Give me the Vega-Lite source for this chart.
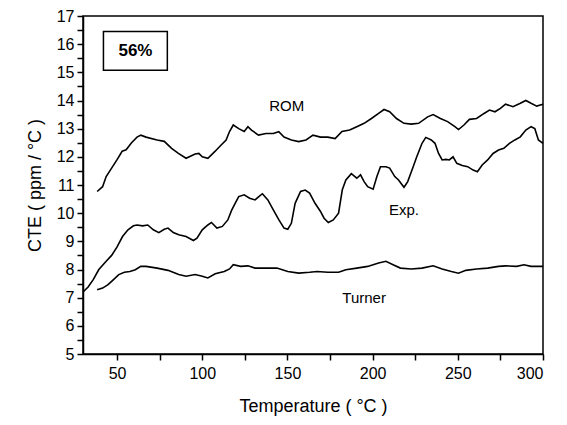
{
  "$schema": "https://vega.github.io/schema/vega-lite/v6.json",
  "width": 460,
  "height": 338,
  "autosize": "none",
  "padding": {"left": 83, "top": 16, "right": 24, "bottom": 71},
  "background": "white",
  "config": {
    "view": {"stroke": "black", "strokeWidth": 1.5},
    "font": "Liberation Sans",
    "axis": {"ticks": true, "tickColor": "black", "tickWidth": 1.5, "tickSize": 6, "tickOpacity": 1}
  },
  "datasets": {
    "curves": [
      {"series": "ROM", "t": 38.3, "cte": 10.77},
      {"series": "ROM", "t": 41.5, "cte": 10.94},
      {"series": "ROM", "t": 43.6, "cte": 11.3},
      {"series": "ROM", "t": 46.8, "cte": 11.6},
      {"series": "ROM", "t": 50, "cte": 11.9},
      {"series": "ROM", "t": 52, "cte": 12.1},
      {"series": "ROM", "t": 53, "cte": 12.2},
      {"series": "ROM", "t": 55.3, "cte": 12.25},
      {"series": "ROM", "t": 58.5, "cte": 12.5},
      {"series": "ROM", "t": 61.7, "cte": 12.7},
      {"series": "ROM", "t": 64, "cte": 12.77},
      {"series": "ROM", "t": 67, "cte": 12.7},
      {"series": "ROM", "t": 73.5, "cte": 12.6},
      {"series": "ROM", "t": 77.7, "cte": 12.55},
      {"series": "ROM", "t": 82, "cte": 12.3},
      {"series": "ROM", "t": 86, "cte": 12.12},
      {"series": "ROM", "t": 90.5, "cte": 11.95},
      {"series": "ROM", "t": 95.8, "cte": 12.1},
      {"series": "ROM", "t": 98, "cte": 12.12},
      {"series": "ROM", "t": 100, "cte": 12.0},
      {"series": "ROM", "t": 103.3, "cte": 11.95},
      {"series": "ROM", "t": 107.6, "cte": 12.2},
      {"series": "ROM", "t": 110.8, "cte": 12.4},
      {"series": "ROM", "t": 114, "cte": 12.6},
      {"series": "ROM", "t": 116, "cte": 12.9},
      {"series": "ROM", "t": 118.2, "cte": 13.13},
      {"series": "ROM", "t": 121.4, "cte": 13.0},
      {"series": "ROM", "t": 124.6, "cte": 12.9},
      {"series": "ROM", "t": 126.8, "cte": 13.07},
      {"series": "ROM", "t": 128.9, "cte": 12.95},
      {"series": "ROM", "t": 133, "cte": 12.77},
      {"series": "ROM", "t": 137.4, "cte": 12.83},
      {"series": "ROM", "t": 141.7, "cte": 12.83},
      {"series": "ROM", "t": 144.9, "cte": 12.89},
      {"series": "ROM", "t": 148, "cte": 12.7},
      {"series": "ROM", "t": 152.3, "cte": 12.6},
      {"series": "ROM", "t": 156.6, "cte": 12.54},
      {"series": "ROM", "t": 160.9, "cte": 12.6},
      {"series": "ROM", "t": 165, "cte": 12.77},
      {"series": "ROM", "t": 169.4, "cte": 12.7},
      {"series": "ROM", "t": 173.7, "cte": 12.7},
      {"series": "ROM", "t": 178, "cte": 12.65},
      {"series": "ROM", "t": 182, "cte": 12.9},
      {"series": "ROM", "t": 186.5, "cte": 12.95},
      {"series": "ROM", "t": 190.7, "cte": 13.07},
      {"series": "ROM", "t": 195, "cte": 13.19},
      {"series": "ROM", "t": 199.3, "cte": 13.36},
      {"series": "ROM", "t": 203.5, "cte": 13.54},
      {"series": "ROM", "t": 206.7, "cte": 13.68},
      {"series": "ROM", "t": 210, "cte": 13.6},
      {"series": "ROM", "t": 214, "cte": 13.36},
      {"series": "ROM", "t": 218.4, "cte": 13.19},
      {"series": "ROM", "t": 222.7, "cte": 13.16},
      {"series": "ROM", "t": 227, "cte": 13.19},
      {"series": "ROM", "t": 232.3, "cte": 13.42},
      {"series": "ROM", "t": 235.5, "cte": 13.5},
      {"series": "ROM", "t": 239.8, "cte": 13.36},
      {"series": "ROM", "t": 244, "cte": 13.25},
      {"series": "ROM", "t": 248.3, "cte": 13.07},
      {"series": "ROM", "t": 250.4, "cte": 12.97},
      {"series": "ROM", "t": 253.6, "cte": 13.13},
      {"series": "ROM", "t": 256.8, "cte": 13.33},
      {"series": "ROM", "t": 261, "cte": 13.36},
      {"series": "ROM", "t": 265.4, "cte": 13.54},
      {"series": "ROM", "t": 268.6, "cte": 13.66},
      {"series": "ROM", "t": 271.8, "cte": 13.6},
      {"series": "ROM", "t": 275, "cte": 13.72},
      {"series": "ROM", "t": 278, "cte": 13.87},
      {"series": "ROM", "t": 282.4, "cte": 13.78},
      {"series": "ROM", "t": 286.7, "cte": 13.9},
      {"series": "ROM", "t": 289.9, "cte": 14.0},
      {"series": "ROM", "t": 293, "cte": 13.9},
      {"series": "ROM", "t": 296.3, "cte": 13.8},
      {"series": "ROM", "t": 300, "cte": 13.87},
      {"series": "Exp", "t": 30, "cte": 7.2},
      {"series": "Exp", "t": 33, "cte": 7.38},
      {"series": "Exp", "t": 36, "cte": 7.64},
      {"series": "Exp", "t": 39.3, "cte": 8.0},
      {"series": "Exp", "t": 43.6, "cte": 8.29},
      {"series": "Exp", "t": 46.8, "cte": 8.5},
      {"series": "Exp", "t": 50, "cte": 8.8},
      {"series": "Exp", "t": 53.2, "cte": 9.17},
      {"series": "Exp", "t": 56.4, "cte": 9.41},
      {"series": "Exp", "t": 59.6, "cte": 9.55},
      {"series": "Exp", "t": 61.7, "cte": 9.58},
      {"series": "Exp", "t": 65, "cte": 9.55},
      {"series": "Exp", "t": 68, "cte": 9.58},
      {"series": "Exp", "t": 71.3, "cte": 9.41},
      {"series": "Exp", "t": 74.5, "cte": 9.31},
      {"series": "Exp", "t": 77.7, "cte": 9.43},
      {"series": "Exp", "t": 79.9, "cte": 9.47},
      {"series": "Exp", "t": 83, "cte": 9.31},
      {"series": "Exp", "t": 86.2, "cte": 9.23},
      {"series": "Exp", "t": 90.5, "cte": 9.17},
      {"series": "Exp", "t": 94.8, "cte": 9.03},
      {"series": "Exp", "t": 96.9, "cte": 9.11},
      {"series": "Exp", "t": 100, "cte": 9.41},
      {"series": "Exp", "t": 103.3, "cte": 9.58},
      {"series": "Exp", "t": 105.4, "cte": 9.67},
      {"series": "Exp", "t": 108.6, "cte": 9.47},
      {"series": "Exp", "t": 111.8, "cte": 9.53},
      {"series": "Exp", "t": 115, "cte": 9.76},
      {"series": "Exp", "t": 117.2, "cte": 10.1},
      {"series": "Exp", "t": 119.3, "cte": 10.35},
      {"series": "Exp", "t": 121.4, "cte": 10.59},
      {"series": "Exp", "t": 124.6, "cte": 10.65},
      {"series": "Exp", "t": 127.8, "cte": 10.53},
      {"series": "Exp", "t": 131, "cte": 10.47},
      {"series": "Exp", "t": 133.2, "cte": 10.59},
      {"series": "Exp", "t": 135.3, "cte": 10.69},
      {"series": "Exp", "t": 138.5, "cte": 10.47},
      {"series": "Exp", "t": 141.7, "cte": 10.12},
      {"series": "Exp", "t": 145, "cte": 9.76},
      {"series": "Exp", "t": 148, "cte": 9.47},
      {"series": "Exp", "t": 150.2, "cte": 9.43},
      {"series": "Exp", "t": 152.3, "cte": 9.64},
      {"series": "Exp", "t": 154.5, "cte": 10.35},
      {"series": "Exp", "t": 157.7, "cte": 10.77},
      {"series": "Exp", "t": 160.4, "cte": 10.82},
      {"series": "Exp", "t": 163, "cte": 10.71},
      {"series": "Exp", "t": 166.2, "cte": 10.35},
      {"series": "Exp", "t": 169.4, "cte": 10.06},
      {"series": "Exp", "t": 171.5, "cte": 9.82},
      {"series": "Exp", "t": 174, "cte": 9.67},
      {"series": "Exp", "t": 176.9, "cte": 9.76},
      {"series": "Exp", "t": 180, "cte": 10.0},
      {"series": "Exp", "t": 182.2, "cte": 10.83},
      {"series": "Exp", "t": 184.3, "cte": 11.18},
      {"series": "Exp", "t": 187.5, "cte": 11.4},
      {"series": "Exp", "t": 190.7, "cte": 11.24},
      {"series": "Exp", "t": 192.9, "cte": 11.36},
      {"series": "Exp", "t": 195, "cte": 11.12},
      {"series": "Exp", "t": 197.1, "cte": 10.94},
      {"series": "Exp", "t": 200.3, "cte": 10.85},
      {"series": "Exp", "t": 202.5, "cte": 11.3},
      {"series": "Exp", "t": 204.6, "cte": 11.65},
      {"series": "Exp", "t": 207.8, "cte": 11.65},
      {"series": "Exp", "t": 210, "cte": 11.6},
      {"series": "Exp", "t": 213, "cte": 11.3},
      {"series": "Exp", "t": 215.2, "cte": 11.18},
      {"series": "Exp", "t": 218.4, "cte": 10.92},
      {"series": "Exp", "t": 220.6, "cte": 11.12},
      {"series": "Exp", "t": 223.8, "cte": 11.65},
      {"series": "Exp", "t": 225.9, "cte": 12.0},
      {"series": "Exp", "t": 229, "cte": 12.48},
      {"series": "Exp", "t": 231.2, "cte": 12.69},
      {"series": "Exp", "t": 234.4, "cte": 12.6},
      {"series": "Exp", "t": 236.6, "cte": 12.48},
      {"series": "Exp", "t": 238.7, "cte": 12.12},
      {"series": "Exp", "t": 240.8, "cte": 11.89},
      {"series": "Exp", "t": 243, "cte": 11.91},
      {"series": "Exp", "t": 245, "cte": 11.89},
      {"series": "Exp", "t": 247.2, "cte": 12.0},
      {"series": "Exp", "t": 249.4, "cte": 11.77},
      {"series": "Exp", "t": 252.6, "cte": 11.69},
      {"series": "Exp", "t": 255.8, "cte": 11.65},
      {"series": "Exp", "t": 259, "cte": 11.53},
      {"series": "Exp", "t": 261.5, "cte": 11.47},
      {"series": "Exp", "t": 264.3, "cte": 11.71},
      {"series": "Exp", "t": 267.5, "cte": 11.89},
      {"series": "Exp", "t": 270.7, "cte": 12.12},
      {"series": "Exp", "t": 273.9, "cte": 12.24},
      {"series": "Exp", "t": 277, "cte": 12.3},
      {"series": "Exp", "t": 280.3, "cte": 12.48},
      {"series": "Exp", "t": 283.5, "cte": 12.6},
      {"series": "Exp", "t": 286.7, "cte": 12.71},
      {"series": "Exp", "t": 289.9, "cte": 12.95},
      {"series": "Exp", "t": 293, "cte": 13.07},
      {"series": "Exp", "t": 295.2, "cte": 13.0},
      {"series": "Exp", "t": 297.3, "cte": 12.6},
      {"series": "Exp", "t": 300, "cte": 12.48},
      {"series": "Turner", "t": 38.3, "cte": 7.28},
      {"series": "Turner", "t": 41.5, "cte": 7.34},
      {"series": "Turner", "t": 44.7, "cte": 7.46},
      {"series": "Turner", "t": 47.9, "cte": 7.64},
      {"series": "Turner", "t": 51, "cte": 7.82},
      {"series": "Turner", "t": 54.3, "cte": 7.9},
      {"series": "Turner", "t": 57.5, "cte": 7.93},
      {"series": "Turner", "t": 60.7, "cte": 7.99},
      {"series": "Turner", "t": 63.9, "cte": 8.11},
      {"series": "Turner", "t": 67, "cte": 8.11},
      {"series": "Turner", "t": 73.5, "cte": 8.05},
      {"series": "Turner", "t": 79.9, "cte": 7.97},
      {"series": "Turner", "t": 86.2, "cte": 7.82},
      {"series": "Turner", "t": 90.5, "cte": 7.76},
      {"series": "Turner", "t": 95.8, "cte": 7.82},
      {"series": "Turner", "t": 100, "cte": 7.76},
      {"series": "Turner", "t": 103.3, "cte": 7.7},
      {"series": "Turner", "t": 107.6, "cte": 7.85},
      {"series": "Turner", "t": 112.9, "cte": 7.93},
      {"series": "Turner", "t": 116, "cte": 8.02},
      {"series": "Turner", "t": 118.2, "cte": 8.17},
      {"series": "Turner", "t": 122.5, "cte": 8.11},
      {"series": "Turner", "t": 126.8, "cte": 8.13},
      {"series": "Turner", "t": 131, "cte": 8.05},
      {"series": "Turner", "t": 137.4, "cte": 8.05},
      {"series": "Turner", "t": 143.8, "cte": 8.05},
      {"series": "Turner", "t": 150.2, "cte": 7.93},
      {"series": "Turner", "t": 156.6, "cte": 7.87},
      {"series": "Turner", "t": 163, "cte": 7.9},
      {"series": "Turner", "t": 167.3, "cte": 7.93},
      {"series": "Turner", "t": 173.7, "cte": 7.9},
      {"series": "Turner", "t": 180, "cte": 7.9},
      {"series": "Turner", "t": 184.3, "cte": 7.99},
      {"series": "Turner", "t": 190.7, "cte": 8.05},
      {"series": "Turner", "t": 197.1, "cte": 8.11},
      {"series": "Turner", "t": 203.5, "cte": 8.23},
      {"series": "Turner", "t": 207.8, "cte": 8.29},
      {"series": "Turner", "t": 212, "cte": 8.17},
      {"series": "Turner", "t": 216.3, "cte": 8.05},
      {"series": "Turner", "t": 222.7, "cte": 8.02},
      {"series": "Turner", "t": 229, "cte": 8.05},
      {"series": "Turner", "t": 235.5, "cte": 8.13},
      {"series": "Turner", "t": 240.8, "cte": 8.02},
      {"series": "Turner", "t": 246.2, "cte": 7.93},
      {"series": "Turner", "t": 250.4, "cte": 7.87},
      {"series": "Turner", "t": 254.7, "cte": 7.97},
      {"series": "Turner", "t": 261, "cte": 8.02},
      {"series": "Turner", "t": 267.5, "cte": 8.05},
      {"series": "Turner", "t": 273.9, "cte": 8.11},
      {"series": "Turner", "t": 278, "cte": 8.13},
      {"series": "Turner", "t": 284.6, "cte": 8.11},
      {"series": "Turner", "t": 288.8, "cte": 8.17},
      {"series": "Turner", "t": 293, "cte": 8.11},
      {"series": "Turner", "t": 300, "cte": 8.11}
    ],
    "box": [{"t": 42, "t2": 79.5, "cte": 15.07, "cte2": 16.45}],
    "boxlabel": [{"t": 60.8, "cte": 15.76, "text": "56%"}],
    "labels": [
      {"t": 149.6, "cte": 13.8, "text": "ROM"},
      {"t": 218.4, "cte": 10.12, "text": "Exp."},
      {"t": 195, "cte": 6.99, "text": "Turner"}
    ]
  },
  "encoding": {
    "x": {
      "field": "t", "type": "quantitative",
      "scale": {"domain": [30, 300], "nice": false, "zero": false},
      "axis": {
        "title": "Temperature ( °C )",
        "values": [50, 75, 100, 125, 150, 175, 200, 225, 250, 275, 300],
        "labelExpr": "datum.value % 50 === 0 ? '' + datum.value : ''",
        "labelOverlap": false,
        "grid": false,
        "domainColor": "black", "domainWidth": 1.5,
        "labelFont": "Liberation Sans", "labelFontSize": 16, "labelColor": "black", "labelPadding": 5,
        "titleFont": "Liberation Sans", "titleFontSize": 18, "titleFontWeight": "normal", "titleColor": "black", "titlePadding": 16
      }
    },
    "y": {
      "field": "cte", "type": "quantitative",
      "scale": {"domain": [5, 17], "nice": false, "zero": false},
      "axis": {
        "title": "CTE ( ppm / °C )",
        "values": [5, 5.5, 6, 6.5, 7, 7.5, 8, 8.5, 9, 9.5, 10, 10.5, 11, 11.5, 12, 12.5, 13, 13.5, 14, 14.5, 15, 15.5, 16, 16.5, 17],
        "labelExpr": "datum.value % 1 === 0 ? '' + datum.value : ''",
        "labelOverlap": false,
        "grid": false,
        "domainColor": "black", "domainWidth": 1.5,
        "labelFont": "Liberation Sans", "labelFontSize": 16, "labelColor": "black", "labelPadding": 3,
        "titleFont": "Liberation Sans", "titleFontSize": 18, "titleFontWeight": "normal", "titleColor": "black", "titlePadding": 12
      }
    }
  },
  "layer": [
    {
      "data": {"name": "curves"},
      "mark": {"type": "line", "color": "black", "strokeWidth": 1.6, "interpolate": "linear"},
      "encoding": {
        "detail": {"field": "series", "type": "nominal"}
      }
    },
    {
      "data": {"name": "box"},
      "mark": {"type": "rect", "fill": "white", "stroke": "black", "strokeWidth": 1.5},
      "encoding": {
        "x2": {"field": "t2"},
        "y2": {"field": "cte2"}
      }
    },
    {
      "data": {"name": "boxlabel"},
      "mark": {"type": "text", "font": "Liberation Sans", "fontSize": 17, "fontWeight": "bold", "color": "black", "align": "center", "baseline": "middle"},
      "encoding": {
        "text": {"field": "text"}
      }
    },
    {
      "data": {"name": "labels"},
      "mark": {"type": "text", "font": "Liberation Sans", "fontSize": 15, "color": "black", "align": "center", "baseline": "middle"},
      "encoding": {
        "text": {"field": "text"}
      }
    }
  ]
}
